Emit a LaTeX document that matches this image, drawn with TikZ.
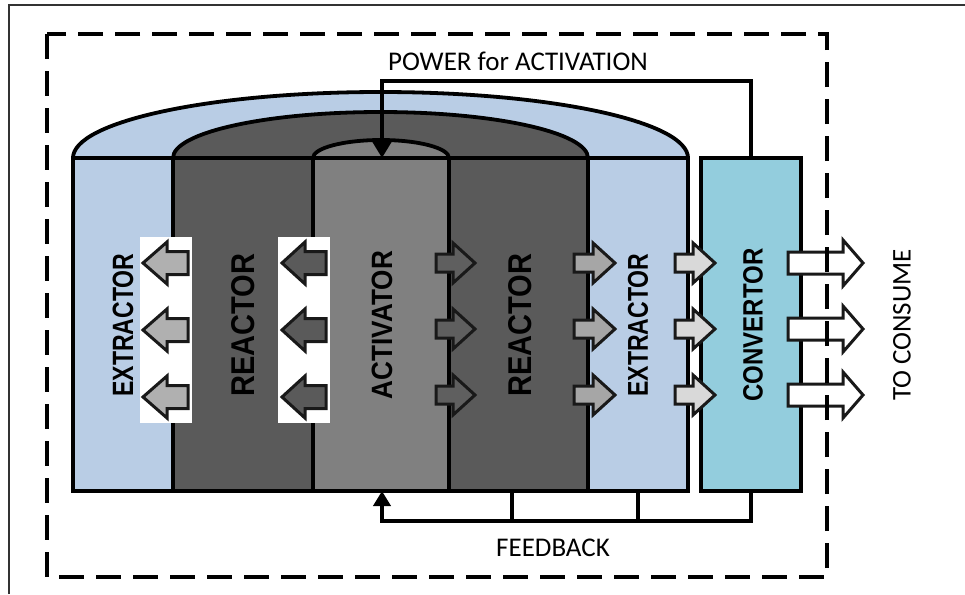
\documentclass[tikz,border=0pt]{standalone}
\usepackage{fontspec}
\setmainfont{Carlito}
\newfontfamily\arialb{Liberation Sans}
\usetikzlibrary{arrows.meta}
\definecolor{lblue}{HTML}{B9CDE5}
\definecolor{dgray}{HTML}{5A5A5A}
\definecolor{mgray}{HTML}{808080}
\definecolor{aqua}{HTML}{93CDDD}
\definecolor{arrA}{HTML}{5F5F5F}
\definecolor{arrB}{HTML}{A6A6A6}
\definecolor{arrC}{HTML}{D9D9D9}
\definecolor{arrL}{HTML}{B0B0B0}
\tikzset{
  outl/.style={draw=black, line width=3.8pt, line join=round},
  colbox/.style={rectangle, draw=black, line width=3.8pt, minimum height=333pt, inner sep=0pt, outer sep=0pt},
  collabel/.style={rotate=90, inner sep=0pt, text=black},
  lbl/.style={inner sep=0pt, font=\fontsize{27}{27}\selectfont},
  barr/.style={draw=black!90, line width=3pt, line join=miter},
  wire/.style={draw=black, line width=4.5pt},
  frame/.style={draw=black!80, line width=2pt},
  dashbox/.style={draw=black, line width=4.5pt, dash pattern=on 25pt off 12pt},
}
% block arrow: #1 shaft end x, #2 head base x, #3 tip x, #4 centre y, #5 shaft half height, #6 head half height, #7 fill
\newcommand\blockarrow[7]{%
  \draw[barr, fill=#7] (#1,#4-#5) -- (#2,#4-#5) -- (#2,#4-#6) -- (#3,#4) -- (#2,#4+#6) -- (#2,#4+#5) -- (#1,#4+#5) -- cycle;}
\newcommand\capslabel[3]{\resizebox{#1pt}{#2pt}{\arialb\bfseries\fontsize{28}{28}\selectfont #3}}
\begin{document}
\begin{tikzpicture}[x=1pt,y=-1pt]
\useasboundingbox (0,0) rectangle (965,594);
\fill[white] (0,0) rectangle (965,594);
% outer frame
\draw[frame] (9,594) -- (9,5) -- (965,5);
% domes
\draw[outl, fill=lblue] (73,158) arc[start angle=180, end angle=0, x radius=307.5pt, y radius=66pt] -- cycle;
\draw[outl, fill=dgray] (173,158) arc[start angle=180, end angle=0, x radius=207.5pt, y radius=46pt] -- cycle;
\draw[outl, fill=mgray] (313,158) arc[start angle=180, end angle=0, x radius=68pt, y radius=18pt] -- cycle;
% columns
\node[colbox, fill=lblue, minimum width=100pt] (ext1) at (123,324.5) {};
\node[colbox, fill=dgray, minimum width=140pt] (rea1) at (243,324.5) {};
\node[colbox, fill=mgray, minimum width=136pt] (act) at (381,324.5) {};
\node[colbox, fill=dgray, minimum width=139pt] (rea2) at (518.5,324.5) {};
\node[colbox, fill=lblue, minimum width=100pt] (ext2) at (638,324.5) {};
\node[colbox, fill=aqua, minimum width=100pt] (conv) at (751,324.5) {};
% white panels behind left arrows
\fill[white] (140,237) rectangle (192,423);
\fill[white] (278,237) rectangle (330,423);
% left arrows
\foreach \yy in {263,330,397} {
  \blockarrow{188}{167}{143}{\yy}{11.5}{21}{arrL}
  \blockarrow{326}{305}{282}{\yy}{11.5}{21}{dgray}
}
% right arrows
\foreach \yy in {263,329,395} {
  \blockarrow{436}{453}{475}{\yy}{9}{20}{arrA}
  \blockarrow{574}{593}{615}{\yy}{9}{20}{arrB}
  \blockarrow{675}{693}{715}{\yy}{9}{20}{arrC}
  \blockarrow{788}{843}{863}{\yy}{11}{23}{white}
}
% column labels
\node[collabel] (lext1) at (123,325) {\capslabel{143}{20.5}{EXTRACTOR}};
\node[collabel] (lrea1) at (243,325) {\capslabel{143}{23}{REACTOR}};
\node[collabel] (lact) at (382,325) {\capslabel{148}{20.5}{ACTIVATOR}};
\node[collabel] (lrea2) at (520,325) {\capslabel{143}{23}{REACTOR}};
\node[collabel] (lext2) at (638,325) {\capslabel{143}{20}{EXTRACTOR}};
\node[collabel] (lconv) at (753,325) {\capslabel{153}{19.5}{CONVERTOR}};
% texts
\node[lbl, rotate=90] (consume) at (902,325) {TO CONSUME};
\node[lbl] (power) at (518,61) {POWER for ACTIVATION};
\node[lbl] (feedback) at (553,548) {FEEDBACK};
% power for activation
\coordinate (ptop) at (382,81);
\draw[wire, -{Triangle[width=18pt,length=16pt]}] (conv.north) |- (ptop) -- (act.north -| ptop);
% feedback
\coordinate (fb1) at (512,491);
\coordinate (fb2) at (638,491);
\coordinate (fbline) at (382,521);
\draw[wire] (fb1) -- (fb1 |- fbline);
\draw[wire] (fb2) -- (fb2 |- fbline);
\draw[wire, -{Triangle[width=17pt,length=15pt]}] (conv.south) |- (fbline) -- (act.south -| fbline);
% dashed system boundary
\draw[dashbox] (47,34) rectangle (827,577);
\end{tikzpicture}
\end{document}
